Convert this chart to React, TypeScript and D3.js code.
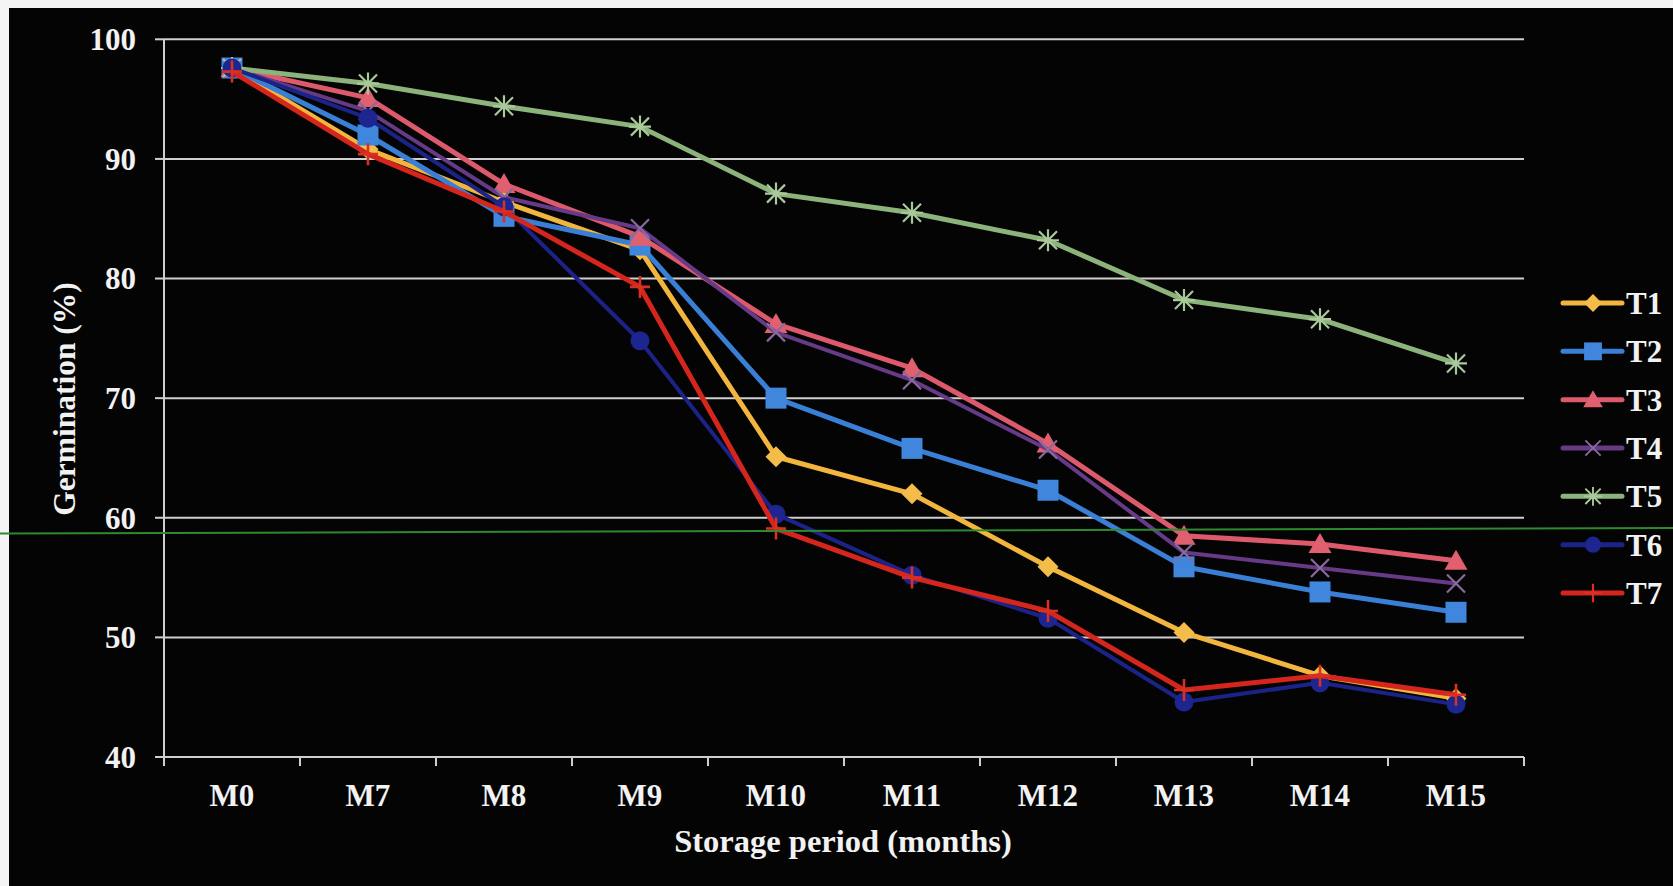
import React from "react";
import * as d3 from "d3";

// Storage period categories and germination (%) per treatment
const months = ["M0", "M7", "M8", "M9", "M10", "M11", "M12", "M13", "M14", "M15"];
const yTicks = [40, 50, 60, 70, 80, 90, 100];

const t1 = [97.6, 90.8, 86.4, 82.4, 65.1, 62.0, 55.9, 50.4, 46.8, 44.9];
const t2 = [97.6, 92.0, 85.2, 82.8, 70.0, 65.8, 62.3, 55.9, 53.8, 52.1];
const t3 = [97.6, 95.1, 87.9, 83.5, 76.2, 72.5, 66.2, 58.5, 57.8, 56.4];
const t4 = [97.6, 94.0, 86.8, 84.2, 75.5, 71.5, 65.7, 57.1, 55.8, 54.5];
const t5 = [97.6, 96.3, 94.4, 92.7, 87.1, 85.5, 83.2, 78.2, 76.6, 72.9];
const t6 = [97.6, 93.4, 86.0, 74.8, 60.3, 55.2, 51.6, 44.6, 46.2, 44.4];
const t7 = [97.3, 90.4, 85.6, 79.3, 59.1, 55.0, 52.2, 45.6, 46.8, 45.2];

type Marker = "diamond" | "square" | "triangle" | "x" | "asterisk" | "circle" | "plus";

const seriesList: { name: string; values: number[]; color: string; markColor: string; marker: Marker; width: number }[] = [
  { name: "T1", values: t1, color: "#f2b53e", markColor: "#f4bd4a", marker: "diamond", width: 5 },
  { name: "T2", values: t2, color: "#3a7fd6", markColor: "#3f86dc", marker: "square", width: 5 },
  { name: "T3", values: t3, color: "#dc5a6c", markColor: "#e0606f", marker: "triangle", width: 5 },
  { name: "T4", values: t4, color: "#663a86", markColor: "#8a6a9e", marker: "x", width: 4 },
  { name: "T5", values: t5, color: "#8cb37c", markColor: "#a9c99b", marker: "asterisk", width: 5 },
  { name: "T6", values: t6, color: "#1c2388", markColor: "#1c2590", marker: "circle", width: 4 },
  { name: "T7", values: t7, color: "#d4261c", markColor: "#d93024", marker: "plus", width: 5 },
];

const W = 1673;
const H = 886;
const FONT = "'Liberation Serif', 'Times New Roman', serif";
const TEXT = "#f2f2f2";
const GRID = "#cfcfcf";

function markerShape(kind: Marker, fill: string) {
  switch (kind) {
    case "diamond":
      return <path d="M0,-10.5L10.5,0L0,10.5L-10.5,0Z" fill={fill} />;
    case "square":
      return <rect x={-10.5} y={-10.5} width={21} height={21} fill={fill} />;
    case "triangle":
      return <path d="M0,-11L11.5,9L-11.5,9Z" fill={fill} />;
    case "circle":
      return <circle r={9.5} fill={fill} />;
    case "x":
      return <path d="M-9,-9L9,9M-9,9L9,-9" stroke={fill} strokeWidth={2.2} fill="none" />;
    case "asterisk":
      return (
        <path d="M-9,-9L9,9M-9,9L9,-9M0,-11L0,11M-11,0L11,0" stroke={fill} strokeWidth={2.2} fill="none" />
      );
    case "plus":
      return <path d="M0,-11L0,11M-10,0L10,0" stroke={fill} strokeWidth={2.6} fill="none" />;
  }
}

export default function App() {
  const plotLeft = 164;
  const plotRight = 1524;
  const plotTop = 39.3;
  const plotBottom = 757;

  const x = d3.scalePoint<string>().domain(months).range([plotLeft, plotRight]).padding(0.5);
  const y = d3.scaleLinear().domain([40, 100]).range([plotBottom, plotTop]);
  const step = x.step();

  const line = d3
    .line<number>()
    .x((_, i) => x(months[i]) as number)
    .y((v) => y(v));

  const legendY = d3.scalePoint<string>().domain(seriesList.map((s) => s.name)).range([303, 593]);

  return (
    <svg
      width={W}
      height={H}
      style={{ position: "absolute", left: 0, top: 0, display: "block" }}
      fontFamily={FONT}
    >
      <rect x={0} y={0} width={W} height={H} fill="#f4f4f4" />
      <rect x={9} y={8} width={W - 9} height={H - 8} fill="#040404" />

      {/* horizontal gridlines */}
      {yTicks
        .filter((t) => t > 40)
        .map((t) => (
          <line key={t} x1={plotLeft} x2={plotRight} y1={y(t)} y2={y(t)} stroke={GRID} strokeWidth={2} />
        ))}

      {/* y axis */}
      <line x1={plotLeft} x2={plotLeft} y1={plotTop} y2={plotBottom} stroke={GRID} strokeWidth={2} />
      {yTicks.map((t) => (
        <g key={t}>
          <line x1={plotLeft - 9} x2={plotLeft} y1={y(t)} y2={y(t)} stroke={GRID} strokeWidth={2} />
          <text
            x={plotLeft - 28}
            y={y(t)}
            dy="0.35em"
            textAnchor="end"
            fill={TEXT}
            fontSize={31}
            fontWeight="bold"
          >
            {t}
          </text>
        </g>
      ))}

      {/* x axis */}
      <line x1={plotLeft} x2={plotRight} y1={plotBottom} y2={plotBottom} stroke={GRID} strokeWidth={2} />
      {d3.range(months.length + 1).map((i) => (
        <line
          key={i}
          x1={plotLeft + i * step}
          x2={plotLeft + i * step}
          y1={plotBottom}
          y2={plotBottom + 9}
          stroke={GRID}
          strokeWidth={2}
        />
      ))}
      {months.map((m) => (
        <text
          key={m}
          x={x(m)}
          y={806}
          textAnchor="middle"
          fill={TEXT}
          fontSize={31}
          fontWeight="bold"
        >
          {m}
        </text>
      ))}

      <text x={843} y={852} textAnchor="middle" fill={TEXT} fontSize={32.5} fontWeight="bold">
        Storage period (months)
      </text>
      <text
        transform={`translate(75,399) rotate(-90)`}
        textAnchor="middle"
        fill={TEXT}
        fontSize={31.5}
        fontWeight="bold"
      >
        Germination (%)
      </text>

      {/* series */}
      {seriesList.map((s) => (
        <g key={s.name}>
          <path
            d={line(s.values) as string}
            fill="none"
            stroke={s.color}
            strokeWidth={s.width}
            strokeLinejoin="round"
          />
          {s.values.map((v, i) => (
            <g key={i} transform={`translate(${x(months[i])},${y(v)})`}>
              {markerShape(s.marker, s.markColor)}
            </g>
          ))}
        </g>
      ))}

      {/* legend */}
      {seriesList.map((s) => {
        const ly = legendY(s.name) as number;
        return (
          <g key={s.name}>
            <line x1={1563} x2={1622} y1={ly} y2={ly} stroke={s.color} strokeWidth={5} strokeLinecap="round" />
            <g transform={`translate(1593,${ly}) scale(0.85)`}>{markerShape(s.marker, s.markColor)}</g>
            <text x={1626} y={ly} dy="0.35em" fill={TEXT} fontSize={31} fontWeight="bold">
              {s.name}
            </text>
          </g>
        );
      })}

      {/* faint green scan line across the sheet */}
      <line x1={0} x2={W} y1={533.5} y2={528} stroke="#2f8a2f" strokeWidth={2} />
    </svg>
  );
}
